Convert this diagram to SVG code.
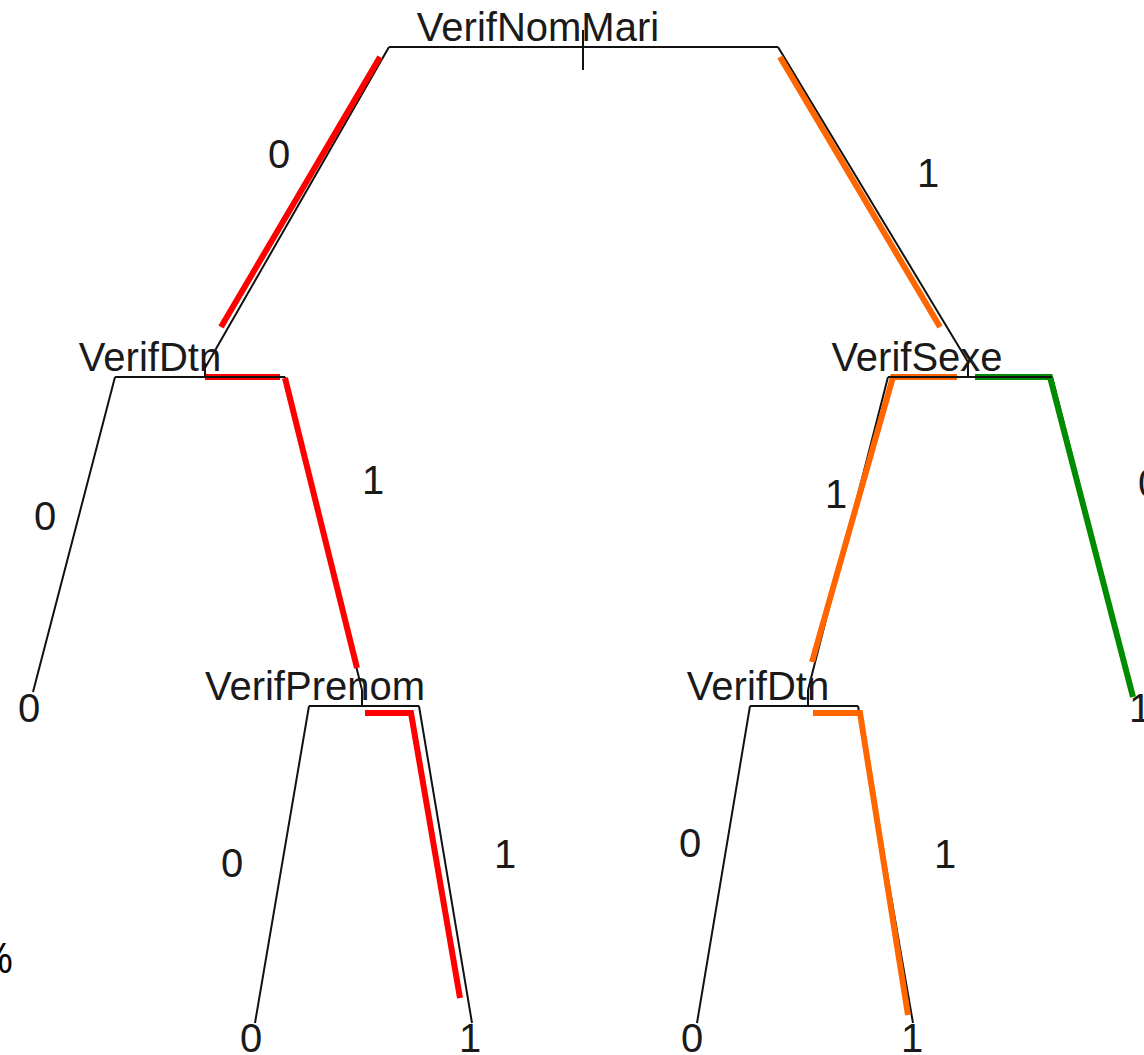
<svg xmlns="http://www.w3.org/2000/svg" width="1144" height="1055" viewBox="0 0 1144 1055">
<style>
text{font-family:"Liberation Sans",Arial,sans-serif;font-size:40px;fill:#1a1a1a;text-anchor:middle}
.thin{fill:none;stroke:#111;stroke-width:2}
.red{fill:none;stroke:#ff0000;stroke-width:6}
.orange{fill:none;stroke:#ff6600;stroke-width:6}
.green{fill:none;stroke:#008c00;stroke-width:6}
</style>
<rect width="1144" height="1055" fill="#fff"/>
<g id="connectors">
<path class="thin" d="M389,47 L205,368 M778,47 L968,362 M285,377 L362,690 M888,377 L808,690 M115,377 L33,692 M1052,377 L1133,695 M309,706 L255,1023 M419,706 L472,1023 M750,706 L697,1023 M858,706 L913,1023"/>
<path class="red" d="M380,57 L221,327 M205,377 H280 M285,378 L357,668 M365,713 H411 L460,998"/>
<path class="orange" d="M780,57 L940,327 M957,377 H893 L812,662 M813,713 H860 L908,1015"/>
<path class="green" d="M975,377 H1050 L1133,697"/>
<text x="279" y="168">0</text>
<text x="928" y="187">1</text>
<text x="45" y="530">0</text>
<text x="373" y="494">1</text>
<text x="836" y="508">1</text>
<text x="1149" y="497">0</text>
<text x="232" y="877">0</text>
<text x="505" y="868">1</text>
<text x="690" y="857">0</text>
<text x="945" y="868">1</text>
</g>
<g id="node-VerifNomMari">
<path class="thin" d="M389,47 H778 M583,30 V70"/>
<text x="538" y="41">VerifNomMari</text>
</g>
<g id="node-VerifDtn-1">
<path class="thin" d="M115,377 H285 M205,363 V377"/>
<text x="150" y="371">VerifDtn</text>
</g>
<g id="node-VerifSexe">
<path class="thin" d="M888,377 H1052 M968,360 V377"/>
<text x="917" y="371">VerifSexe</text>
</g>
<g id="node-VerifPrenom">
<path class="thin" d="M309,706 H419 M362,690 V706"/>
<text x="315" y="700">VerifPrenom</text>
</g>
<g id="node-VerifDtn-2">
<path class="thin" d="M750,706 H858 M808,690 V706"/>
<text x="758" y="700">VerifDtn</text>
</g>
<g id="leaf-1"><text x="29" y="722">0</text></g>
<g id="leaf-2"><text x="1140" y="722">1</text></g>
<g id="leaf-3"><text x="251" y="1052">0</text></g>
<g id="leaf-4"><text x="470" y="1052">1</text></g>
<g id="leaf-5"><text x="692" y="1052">0</text></g>
<g id="leaf-6"><text x="912" y="1052">1</text></g>
<text x="-4" y="973" style="font-family:'Open Sans',sans-serif;font-size:42px;fill:#000">%</text>
</svg>
